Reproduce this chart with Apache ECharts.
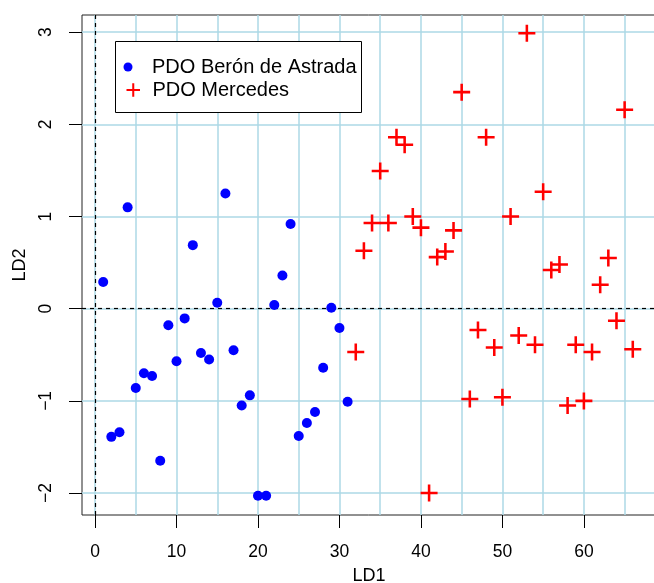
<!DOCTYPE html>
<html>
<head>
<meta charset="utf-8">
<script src="https://cdn.jsdelivr.net/npm/echarts@6/dist/echarts.min.js"></script>
<style>
  html, body { margin: 0; padding: 0; background: #fff; }
  #chart { width: 654px; height: 583px; }
</style>
</head>
<body>
<div id="chart"></div>
<script>
// LD1 = observation index, LD2 = discriminant score
const ld1Beron = [1, 2, 3, 4, 5, 6, 7, 8, 9, 10, 11, 12, 13, 14, 15, 16, 17, 18, 19, 20, 21, 22, 23, 24, 25, 26, 27, 28, 29, 30, 31];
const ld2Beron = [0.29, -1.39, -1.34, 1.10, -0.86, -0.70, -0.73, -1.65, -0.18, -0.57, -0.105, 0.69, -0.48, -0.55, 0.065, 1.25,
  -0.45, -1.05, -0.94, -2.03, -2.03, 0.04, 0.36, 0.92, -1.38, -1.24, -1.12, -0.64, 0.01, -0.21, -1.01];

const ld1Mercedes = [32, 33, 34, 35, 36, 37, 38, 39, 40, 41, 42, 43, 44, 45, 46, 47, 48, 49, 50, 51, 52, 53, 54, 55, 56, 57, 58, 59, 60, 61, 62, 63, 64, 65, 66];
const ld2Mercedes = [-0.47, 0.63, 0.93, 1.495, 0.93, 1.86, 1.78, 1.0, 0.88, -2.0, 0.56, 0.62, 0.85, 2.35, -0.98, -0.23, 1.86,
  -0.42, -0.96, 1.0, -0.29, 2.99, -0.39, 1.27, 0.42, 0.48, -1.05, -0.39, -1.0, -0.47, 0.26, 0.55, -0.13, 2.16, -0.44];

const xTicks = [0, 10, 20, 30, 40, 50, 60];
const xGrid = [0, 5, 10, 15, 20, 25, 30, 35, 40, 45, 50, 55, 60, 65];
const yTicks = [-2, -1, 0, 1, 2, 3];

const nameBeron = "PDO Berón de Astrada";
const nameMercedes = "PDO Mercedes";

const font = "Liberation Sans";
const plus = "path://M8.5,0H11.5V8.5H20V11.5H11.5V20H8.5V11.5H0V8.5H8.5Z";

const chart = echarts.init(document.getElementById("chart"));

const option = {
  animation: false,
  textStyle: { fontFamily: font, color: "#000" },
  grid: {
    left: 82, right: -2, top: 15, bottom: 68,
    outerBoundsMode: "none", containLabel: false,
    show: true, borderColor: "#222", borderWidth: 1, backgroundColor: "transparent"
  },
  xAxis: [
    {
      type: "value", min: -1.6, max: 68.85,
      name: "LD1", nameLocation: "middle", nameGap: 52,
      nameTextStyle: { fontSize: 18, fontFamily: font, color: "#000" },
      axisLine: { show: false, onZero: false },
      axisTick: { show: true, inside: false, length: 13, customValues: xTicks, lineStyle: { color: "#000" } },
      axisLabel: { customValues: xTicks, margin: 28, fontSize: 17.5, fontFamily: font, color: "#000" },
      splitLine: { show: false }
    },
    {
      type: "value", min: -1.6, max: 68.85, position: "bottom",
      axisLine: { show: false, onZero: false },
      axisTick: { show: false, customValues: xGrid },
      axisLabel: { show: false, customValues: xGrid },
      splitLine: { show: true, lineStyle: { color: "#ADD8E6", width: 1.5 } }
    }
  ],
  yAxis: {
    type: "value", min: -2.238, max: 3.187,
    name: "LD2", nameLocation: "middle", nameGap: 47, nameRotate: 90,
    nameTextStyle: { fontSize: 18, fontFamily: font, color: "#000" },
    axisLine: { show: false, onZero: false },
    axisTick: { show: true, inside: false, length: 13, customValues: yTicks, lineStyle: { color: "#000" } },
    axisLabel: {
      customValues: yTicks, rotate: 90, margin: 27, fontSize: 17.5, fontFamily: font, color: "#000",
      formatter: v => String(v).replace("-", "\u2212")
    },
    splitLine: { show: true, lineStyle: { color: "#ADD8E6", width: 1.5 } }
  },
  graphic: [{
    type: "rect", z: 10,
    shape: { x: 115.5, y: 41.5, width: 246, height: 71 },
    style: { fill: "#fff", stroke: "#000", lineWidth: 1 }
  }],
  legend: [
    {
      data: [{ name: nameBeron, icon: "circle" }],
      left: 123.5, top: 57, padding: 0, z: 20,
      itemWidth: 38, itemHeight: 9,
      textStyle: { fontSize: 20, fontFamily: font, color: "#000", lineHeight: 20 },
      selectedMode: false
    },
    {
      data: [{ name: nameMercedes, icon: plus }],
      left: 126.5, top: 80, padding: 0, z: 20,
      itemWidth: 28.3, itemHeight: 13.5,
      textStyle: { fontSize: 20, fontFamily: font, color: "#000", lineHeight: 20 },
      selectedMode: false
    }
  ],
  series: [
    {
      name: nameBeron, type: "scatter", xAxisIndex: 0,
      symbol: "circle", symbolSize: 10,
      itemStyle: { color: "#0000FF", opacity: 1 },
      data: ld1Beron.map((x, i) => [x, ld2Beron[i]]),
      markLine: {
        silent: true, symbol: "none", animation: false,
        label: { show: false },
        lineStyle: { color: "#000", type: [4, 4], width: 1.2 },
        data: [{ xAxis: 0 }, { yAxis: 0 }]
      },
      z: 5
    },
    {
      name: nameMercedes, type: "scatter", xAxisIndex: 0,
      symbol: plus, symbolSize: 17,
      itemStyle: { color: "#FF0000", opacity: 1 },
      data: ld1Mercedes.map((x, i) => [x, ld2Mercedes[i]]),
      z: 5
    }
  ]
};

chart.setOption(option);
</script>
</body>
</html>
